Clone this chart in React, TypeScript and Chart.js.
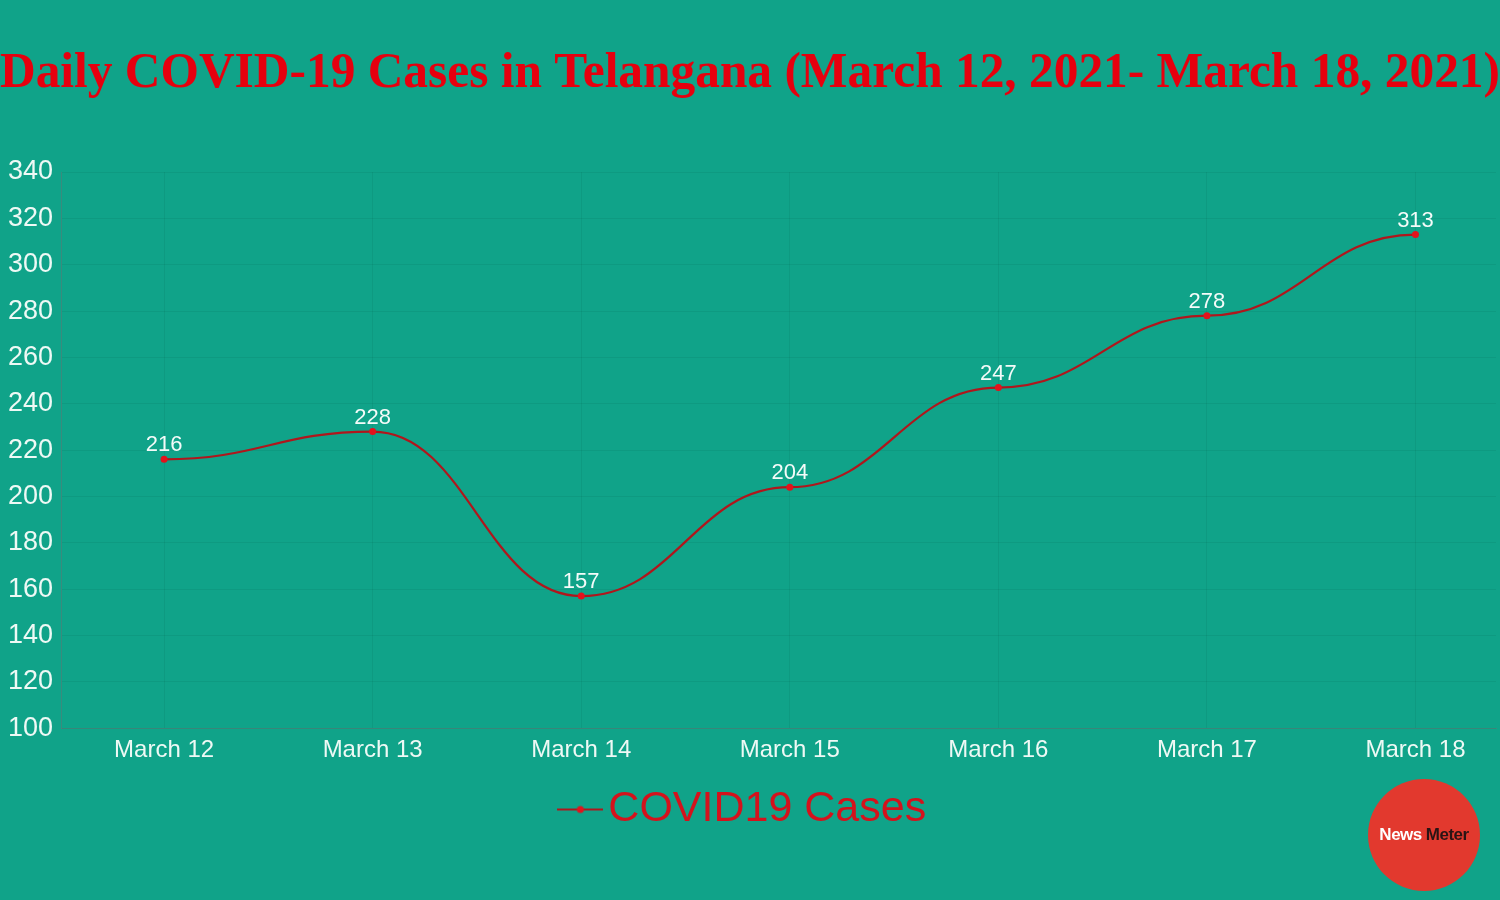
import React, { useEffect, useRef } from "react";
import { Chart, registerables } from "chart.js";

Chart.register(...registerables);

const categories = ["March 12", "March 13", "March 14", "March 15", "March 16", "March 17", "March 18"];
const cases = [216, 228, 157, 204, 247, 278, 313];
const yTicks = [100, 120, 140, 160, 180, 200, 220, 240, 260, 280, 300, 320, 340];
const titleText = "Daily COVID-19 Cases in Telangana (March 12, 2021- March 18, 2021)";
const seriesLabel = "COVID19 Cases";

const BG = "#10a389";
const LINE = "#b0161c";
const POINT = "#e3121c";

function makeLegendIcon(): HTMLCanvasElement {
  const c = document.createElement("canvas");
  c.width = 46;
  c.height = 10;
  const ctx = c.getContext("2d")!;
  ctx.strokeStyle = LINE;
  ctx.lineWidth = 2;
  ctx.beginPath();
  ctx.moveTo(0, 5);
  ctx.lineTo(46, 5);
  ctx.stroke();
  ctx.fillStyle = POINT;
  ctx.beginPath();
  ctx.arc(23, 5, 3.5, 0, Math.PI * 2);
  ctx.fill();
  return c;
}

// Smooth curve with near-horizontal tangents at each point (adjusts the line element's bezier control points)
const flatTangents = {
  id: "flatTangents",
  beforeDatasetsDraw(chart: any) {
    const meta = chart.getDatasetMeta(0);
    const line = meta.dataset;
    const pts = meta.data;
    const k = 0.45;
    for (let i = 0; i < pts.length; i++) {
      const p = pts[i];
      const prev = pts[i - 1];
      const next = pts[i + 1];
      const dxPrev = prev ? p.x - prev.x : 0;
      const dxNext = next ? next.x - p.x : 0;
      p.cp1x = p.x - dxPrev * k;
      p.cp1y = p.y;
      p.cp2x = p.x + dxNext * k;
      p.cp2y = p.y;
    }
    if (line) {
      line._pointsUpdated = true;
      delete line._path;
    }
  },
};

const valueLabels = {
  id: "valueLabels",
  afterDatasetsDraw(chart: any) {
    const ctx = chart.ctx;
    const meta = chart.getDatasetMeta(0);
    ctx.save();
    ctx.fillStyle = "#f4fbf9";
    ctx.font = "22px Arial, 'Liberation Sans', sans-serif";
    ctx.textAlign = "center";
    ctx.textBaseline = "bottom";
    meta.data.forEach((pt: any, i: number) => {
      const v = chart.data.datasets[0].data[i].y;
      ctx.fillText(String(v), pt.x, pt.y - 3);
    });
    ctx.restore();
  },
};

export default function App() {
  const ref = useRef<HTMLCanvasElement | null>(null);

  useEffect(() => {
    if (!ref.current) return;
    const icon = makeLegendIcon();
    const chart = new Chart(ref.current, {
      type: "line",
      data: {
        datasets: [
          {
            label: seriesLabel,
            data: cases.map((v, i) => ({ x: i, y: v })),
            borderColor: LINE,
            backgroundColor: POINT,
            borderWidth: 2.2,
            pointRadius: 3.5,
            pointBorderWidth: 0,
            pointBackgroundColor: POINT,
            pointBorderColor: POINT,
            tension: 0.4,
            fill: false,
          },
        ],
      },
      options: {
        animation: false,
        responsive: false,
        maintainAspectRatio: false,
        layout: { padding: { top: 0, right: 0, bottom: 59, left: 0 } },
        plugins: {
          tooltip: { enabled: false },
          title: {
            display: true,
            text: titleText,
            color: "#e6000e",
            font: { family: "'Liberation Serif', 'Times New Roman', serif", size: 50, weight: "bold" },
            padding: { top: 44, bottom: 68 },
          },
          legend: {
            display: true,
            position: "bottom",
            labels: {
              color: "#d4121c",
              font: { family: "Arial, 'Liberation Sans', sans-serif", size: 43 },
              usePointStyle: true,
              pointStyle: icon as any,
              pointStyleWidth: 13,
              padding: 15,
            },
          },
        },
        scales: {
          x: {
            type: "linear",
            min: -0.494,
            max: 6.386,
            grid: { color: "rgba(0,90,70,0.12)", drawTicks: false },
            border: { color: "rgba(110,110,110,0.45)" },
            ticks: {
              stepSize: 1,
              includeBounds: false,
              autoSkip: false,
              maxRotation: 0,
              color: "#eef9f5",
              padding: 8,
              font: { family: "Arial, 'Liberation Sans', sans-serif", size: 24 },
              callback: (v: any) => {
                const n = Number(v);
                return Number.isInteger(n) && categories[n] ? categories[n] : "";
              },
            },
          },
          y: {
            min: yTicks[0],
            max: yTicks[yTicks.length - 1],
            grid: { color: "rgba(0,90,70,0.12)", drawTicks: false },
            border: { color: "rgba(110,110,110,0.45)" },
            afterBuildTicks: (axis: any) => {
              axis.ticks = yTicks.map((v) => ({ value: v }));
            },
            ticks: {
              color: "#eef9f5",
              padding: 8,
              font: { family: "Arial, 'Liberation Sans', sans-serif", size: 27 },
            },
          },
        },
      },
      plugins: [flatTangents, valueLabels],
    });
    return () => chart.destroy();
  }, []);

  return (
    <div style={{ position: "fixed", left: 0, top: 0, width: 1500, height: 900, background: BG, overflow: "hidden" }}>
      <canvas ref={ref} width={1500} height={900} style={{ display: "block" }} />
      <div
        style={{
          position: "absolute",
          left: 1368,
          top: 779,
          width: 112,
          height: 112,
          borderRadius: "50%",
          background: "#e2392e",
          display: "flex",
          alignItems: "center",
          justifyContent: "center",
          fontFamily: "Arial, 'Liberation Sans', sans-serif",
          fontSize: 17,
          fontWeight: "bold",
          letterSpacing: -0.5,
        }}
      >
        <span style={{ color: "#ffffff" }}>News</span>
        <span style={{ color: "#2a1414", marginLeft: 4 }}>Meter</span>
      </div>
    </div>
  );
}
